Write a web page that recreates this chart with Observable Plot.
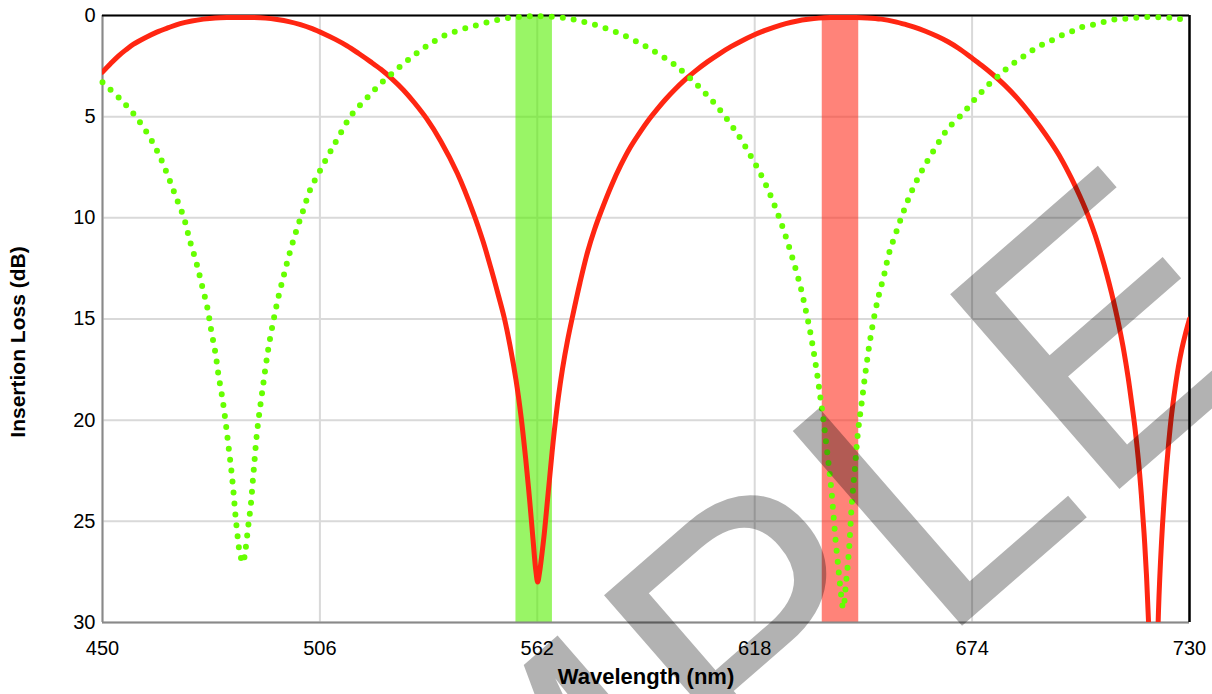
<!DOCTYPE html>
<html>
<head>
<meta charset="utf-8">
<script src="https://cdn.jsdelivr.net/npm/d3@7"></script>
<script src="https://cdn.jsdelivr.net/npm/@observablehq/plot@0.6"></script>
<style>
  html, body { margin: 0; padding: 0; background: #fff; }
  #chart { width: 1212px; height: 694px; }
</style>
</head>
<body>
<div id="chart"></div>
<script>
// ---- data ----
const wavelengthTicks = [450, 506, 562, 618, 674, 730];
const lossTicks = [0, 5, 10, 15, 20, 25, 30];

const redWavelength = [450,452,454,456,458,461,464,467,470,473,
  476,479,482,485.6,489,492,495,498,501,504,
  507,510,513,516,519,521.7,524.5,527.5,530.3,533.5,
  537.1,541.4,545.7,548,550,552,553.5,555,556.5,557.8,
  559,560,560.9,561.6,562.1,562.6,563.2,563.8,564.5,565.1,
  565.8,566.4,567.4,568.5,569.8,571.1,573,575,576.7,578.4,
  581,583.5,586,588.7,591,593,595,597.3,600,603,
  605.9,609,612,614.5,617.5,620.5,623.1,626,629,631.7,
  634.5,637.5,641,644,647,650.6,654,657,659.1,662,
  665,667.8,670.5,673.8,676.5,679.5,682.4,685.5,688.4,691.5,
  694.4,697,699.6,701.8,703.9,705.6,707.3,708.7,709.9,711,
  712,713.1,714.2,715,715.9,716.8,717.6,718.3,718.9,719.5,
  720.2,720.8,721.4,722,722.8,723.7,724.6,725.4,726.3,727.1,
  728,729,730];
const redLoss = [2.8,2.4,2.02,1.7,1.42,1.1,0.82,0.6,0.4,0.27,
  0.18,0.12,0.1,0.1,0.1,0.13,0.2,0.3,0.45,0.65,
  0.9,1.18,1.5,1.88,2.28,2.66,3.12,3.68,4.3,5.1,
  6.2,7.8,9.85,11.15,12.45,13.85,14.95,16.35,18.0,19.8,
  21.9,23.9,25.9,27.4,28.0,27.5,26.6,25.6,24.2,23.0,
  21.6,20.5,18.9,17.45,16.05,14.85,13.2,11.65,10.6,9.7,
  8.45,7.4,6.5,5.7,5.08,4.6,4.15,3.68,3.18,2.7,
  2.28,1.88,1.53,1.27,0.99,0.75,0.57,0.4,0.27,0.19,
  0.13,0.1,0.1,0.1,0.12,0.18,0.3,0.45,0.57,0.78,
  1.03,1.3,1.62,2.08,2.47,2.94,3.44,4.06,4.72,5.5,
  6.3,7.1,8.05,8.95,9.9,10.8,11.85,12.8,13.7,14.6,
  15.5,16.6,17.9,19.0,20.3,21.9,23.7,25.6,27.6,30.2,
  35,40,35,29.5,26.0,23.3,21.2,19.7,18.4,17.4,
  16.5,15.7,15.0];

const greenWavelength = [450,454.4,458.2,461.7,464.5,466.8,468.9,471,472.5,474.2,
  475.6,477,478,479.1,479.9,480.9,481.7,482.4,483.1,483.7,
  484.2,484.8,485.4,486.2,486.8,487.5,488.2,488.7,489.2,489.7,
  490.4,491.2,492,492.9,494,495.2,496.6,498.1,499.8,501.7,
  503.6,506.4,509.2,510.7,514,518,521.7,526.2,530,534,
  538,542,546,549.3,552.3,555.2,558.2,561.2,565.1,570.4,
  575.9,581.5,586.9,591.9,596.7,599,603.1,607.3,610.9,614.3,
  617.3,620.1,622.5,624.6,626.5,628.2,629.8,631.1,632.3,633.3,
  634.2,635,635.8,636.5,637.2,637.8,638.3,638.8,639.4,640,
  640.8,641.5,642.3,643,643.8,644.6,645.6,646.7,648,649.7,
  651.3,652.6,654.5,656.5,658.7,661.4,664.5,667.8,671.9,673.9,
  676.1,678.1,680.2,682.4,684.5,687,689.5,692,694.4,697,
  699.7,702.2,705,707.7,710.5,713.4,716.2,719.1,721.9,724.6,
  727.2,730];
const greenLoss = [3.3,4.1,4.91,5.87,6.86,7.9,8.96,10.02,11.13,12.23,
  13.32,14.43,15.56,16.7,17.8,18.94,20.07,21.2,22.33,23.46,
  24.6,25.74,26.6,27.05,26.45,25.3,24.19,23.06,21.91,20.78,
  19.65,18.52,17.39,16.25,15.12,14.01,12.92,11.82,10.72,9.63,
  8.57,7.54,6.54,6.04,4.95,4.1,3.36,2.6,2.0,1.45,
  1.0,0.72,0.5,0.33,0.2,0.11,0.06,0.03,0.05,0.16,
  0.41,0.76,1.22,1.75,2.34,2.69,3.42,4.27,5.13,6.07,
  7.05,8.05,9.09,10.14,11.22,12.3,13.41,14.52,15.64,16.75,
  17.87,19.0,20.13,21.29,22.44,23.55,24.71,25.86,27.01,28.17,
  29.3,28.1,26.4,24.17,22.4,20.6,19.08,17.4,15.72,14.04,
  12.85,11.76,10.68,9.61,8.57,7.55,6.55,5.59,4.78,4.32,
  3.85,3.45,3.08,2.7,2.39,2.05,1.72,1.45,1.24,0.99,
  0.79,0.58,0.46,0.33,0.2,0.16,0.11,0.08,0.08,0.11,
  0.16,0.25];

const bandSeries = ["green", "red"];
const bandStart = [556.5, 635.4];
const bandEnd = [565.9, 644.8];

// ---- build tables ----
const red = redWavelength.map((w, i) => ({w, loss: redLoss[i]}));
const green = greenWavelength.map((w, i) => ({w, loss: greenLoss[i]}));
const bands = bandSeries.map((s, i) => ({s, x1: bandStart[i], x2: bandEnd[i]}));

const bandColor = {green: "#55ee00", red: "#ff3020"};
const gridColor = "#d9d9d9";

const svg = Plot.plot({
  width: 1212,
  height: 694,
  marginLeft: 102,
  marginRight: 23,
  marginTop: 15,
  marginBottom: 72,
  style: {fontFamily: "'Liberation Sans', Arial, sans-serif", fontSize: "20px", color: "#000", background: "#fff"},
  x: {domain: [450, 730], ticks: wavelengthTicks},
  y: {domain: [0, 30], reverse: true, ticks: lossTicks},
  marks: [
    Plot.gridX(wavelengthTicks, {stroke: gridColor, strokeOpacity: 1, strokeWidth: 2}),
    Plot.gridY(lossTicks, {stroke: gridColor, strokeOpacity: 1, strokeWidth: 2}),
    Plot.rect(bands, {x1: "x1", x2: "x2", y1: 0, y2: 30, fill: d => bandColor[d.s], fillOpacity: 0.6}),
    Plot.ruleX([450], {stroke: "#898989", strokeWidth: 2}),
    Plot.ruleY([30], {stroke: "#898989", strokeWidth: 2}),
    Plot.ruleY([0], {stroke: "#000", strokeWidth: 2}),
    Plot.ruleX([730], {stroke: "#000", strokeWidth: 2.5}),
    Plot.line(red, {x: "w", y: "loss", stroke: "#ff2612", strokeWidth: 5, curve: "catmull-rom", clip: true}),
    Plot.line(green, {x: "w", y: "loss", stroke: "#66ff00", strokeWidth: 6, strokeLinecap: "round",
      strokeDasharray: "0 11", curve: "catmull-rom"}),
    Plot.axisX(wavelengthTicks, {tickSize: 0, tickPadding: 18, label: null, fontSize: 20}),
    Plot.axisY(lossTicks, {tickSize: 0, tickPadding: 7, label: null, fontSize: 20}),
    Plot.text(["Wavelength (nm)"], {frameAnchor: "bottom", dy: 61, fontWeight: "bold", fontSize: 22, textAnchor: "middle"}),
    Plot.text(["Insertion Loss (dB)"], {frameAnchor: "left", dx: -84, dy: 23, rotate: -90, fontWeight: "bold", fontSize: 21, textAnchor: "middle"})
  ]
});

// watermark
d3.select(svg).append("text")
  .attr("transform", "translate(1285,345) rotate(-41)")
  .attr("text-anchor", "end")
  .attr("font-family", "'Liberation Sans', Arial, sans-serif")
  .attr("font-size", 375)
  .attr("fill", "#000")
  .attr("fill-opacity", 0.3)
  .text("SAMPLE");

document.getElementById("chart").appendChild(svg);
</script>
</body>
</html>
